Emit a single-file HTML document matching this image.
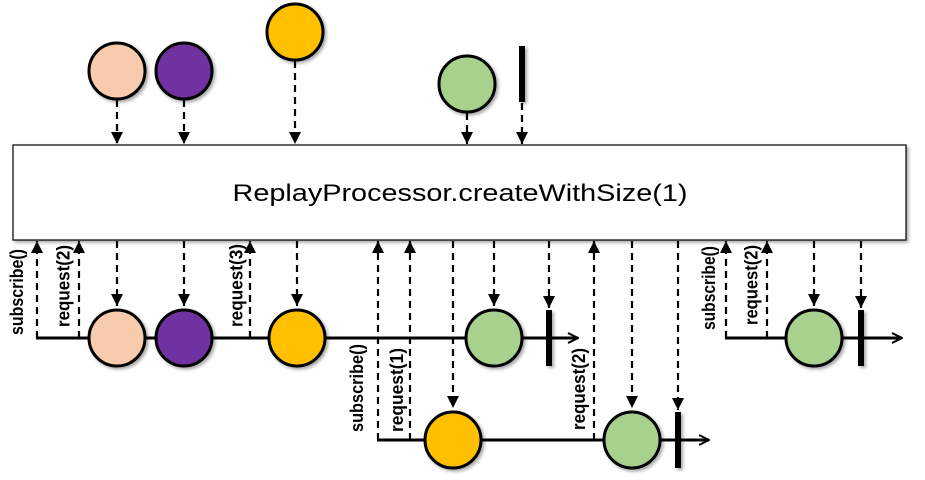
<!DOCTYPE html>
<html><head><meta charset="utf-8"><style>
html,body{margin:0;padding:0;background:#fff;width:925px;height:480px;overflow:hidden}
svg{display:block}
</style></head><body>
<svg width="925" height="480" viewBox="0 0 925 480" xmlns="http://www.w3.org/2000/svg">
<defs>
<marker id="a" viewBox="0 0 10 10" refX="10" refY="5" markerWidth="12" markerHeight="12" markerUnits="userSpaceOnUse" orient="auto"><path d="M0,0 L10,5 L0,10 z" fill="#000"/></marker>
<marker id="o" viewBox="0 0 12 12" refX="11" refY="6" markerWidth="12" markerHeight="12" markerUnits="userSpaceOnUse" orient="auto"><path d="M1,1 L11,6 L1,11" fill="none" stroke="#000" stroke-width="2"/></marker>
<filter id="s" x="-20%" y="-20%" width="150%" height="150%"><feDropShadow dx="2" dy="2" stdDeviation="1.5" flood-color="#000" flood-opacity="0.35"/></filter>
</defs>

<rect x="13" y="145" width="893" height="95" fill="#fff" stroke="#000" stroke-width="1.2" filter="url(#s)"/>
<text x="460" y="201" text-anchor="middle" font-family="Liberation Sans, sans-serif" font-size="24" textLength="455" lengthAdjust="spacingAndGlyphs">ReplayProcessor.createWithSize(1)</text>

<g stroke="#000" stroke-width="2.2" stroke-dasharray="7,5" fill="none" marker-end="url(#a)">
<line x1="117" y1="100" x2="117" y2="144"/>
<line x1="184" y1="100" x2="184" y2="144"/>
<line x1="295" y1="61" x2="295" y2="144"/>
<line x1="467" y1="113" x2="467" y2="144"/>
<line x1="522" y1="103" x2="522" y2="144"/>
<line x1="117" y1="241" x2="117" y2="306"/>
<line x1="184" y1="241" x2="184" y2="306"/>
<line x1="297" y1="241" x2="297" y2="306"/>
<line x1="494" y1="241" x2="494" y2="306"/>
<line x1="549" y1="241" x2="549" y2="308"/>
<line x1="37" y1="338" x2="37" y2="241"/>
<line x1="79" y1="338" x2="79" y2="241"/>
<line x1="250" y1="338" x2="250" y2="241"/>
<line x1="378" y1="440" x2="378" y2="241"/>
<line x1="410" y1="440" x2="410" y2="241"/>
<line x1="594" y1="440" x2="594" y2="241"/>
<line x1="453" y1="241" x2="453" y2="408"/>
<line x1="632" y1="241" x2="632" y2="408"/>
<line x1="678" y1="241" x2="678" y2="410"/>
<line x1="726" y1="338" x2="726" y2="241"/>
<line x1="767" y1="338" x2="767" y2="241"/>
<line x1="814" y1="241" x2="814" y2="306"/>
<line x1="861" y1="241" x2="861" y2="308"/>
</g>

<g stroke="#000" stroke-width="3" fill="none" marker-end="url(#o)">
<line x1="36" y1="338" x2="578" y2="338"/>
<line x1="377" y1="440" x2="709" y2="440"/>
<line x1="725" y1="338" x2="902" y2="338"/>
</g>

<g stroke="#000" stroke-width="3" filter="url(#s)">
<circle cx="117" cy="71" r="28" fill="#F8CBAD"/>
<circle cx="184" cy="71" r="28" fill="#7030A0"/>
<circle cx="295" cy="32" r="28" fill="#FFC000"/>
<circle cx="467" cy="84" r="28" fill="#A9D18E"/>
<circle cx="117" cy="338" r="28" fill="#F8CBAD"/>
<circle cx="184" cy="338" r="28" fill="#7030A0"/>
<circle cx="297" cy="338" r="28" fill="#FFC000"/>
<circle cx="494" cy="338" r="28" fill="#A9D18E"/>
<circle cx="453" cy="440" r="28" fill="#FFC000"/>
<circle cx="632" cy="440" r="28" fill="#A9D18E"/>
<circle cx="814" cy="338" r="28" fill="#A9D18E"/>
</g>
<g fill="#000" filter="url(#s)">
<rect x="519" y="46" width="6" height="56"/>
<rect x="546" y="310" width="6" height="56"/>
<rect x="675" y="412" width="6" height="56"/>
<rect x="858" y="310" width="6" height="56"/>
</g>

<g font-family="Liberation Sans, sans-serif" font-weight="bold" font-size="18" fill="#000">
<text transform="translate(17,335) rotate(-90)" dominant-baseline="central" textLength="86" lengthAdjust="spacingAndGlyphs">subscribe()</text>
<text transform="translate(63.5,327) rotate(-90)" dominant-baseline="central" textLength="82" lengthAdjust="spacingAndGlyphs">request(2)</text>
<text transform="translate(236.5,327) rotate(-90)" dominant-baseline="central" textLength="83" lengthAdjust="spacingAndGlyphs">request(3)</text>
<text transform="translate(357,432) rotate(-90)" dominant-baseline="central" textLength="88" lengthAdjust="spacingAndGlyphs">subscribe()</text>
<text transform="translate(397,432) rotate(-90)" dominant-baseline="central" textLength="84" lengthAdjust="spacingAndGlyphs">request(1)</text>
<text transform="translate(579,430) rotate(-90)" dominant-baseline="central" textLength="82" lengthAdjust="spacingAndGlyphs">request(2)</text>
<text transform="translate(709,330) rotate(-90)" dominant-baseline="central" textLength="84" lengthAdjust="spacingAndGlyphs">subscribe()</text>
<text transform="translate(751.5,325) rotate(-90)" dominant-baseline="central" textLength="80" lengthAdjust="spacingAndGlyphs">request(2)</text>
</g>
</svg>
</body></html>
